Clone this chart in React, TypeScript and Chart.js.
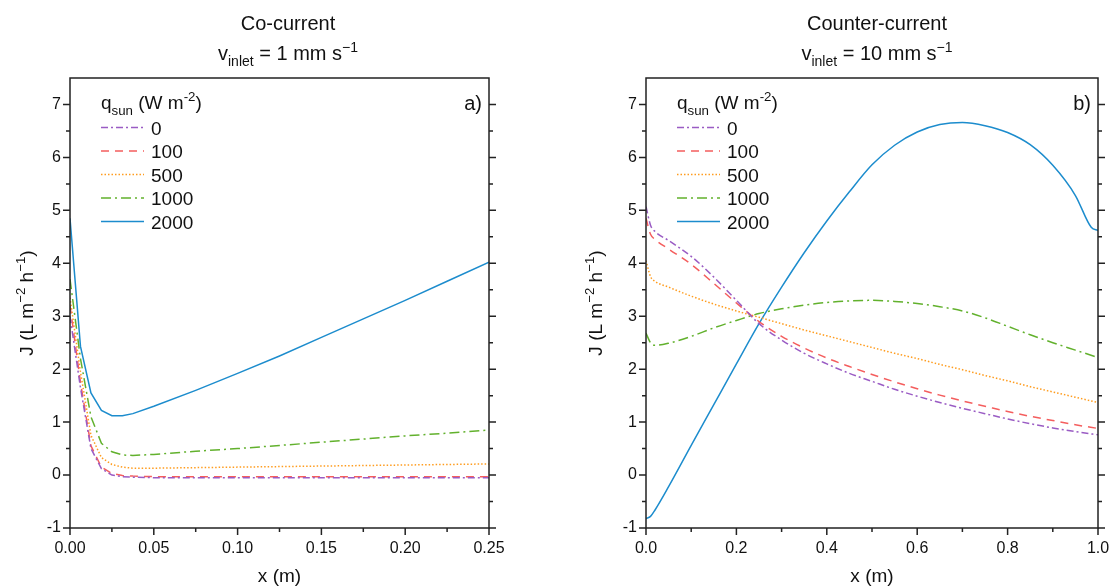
import React, { useEffect, useRef } from 'react';
import { Chart, registerables } from 'chart.js';
Chart.register(...registerables);

const FONT = '"Liberation Sans", Arial, sans-serif';

// ---------- data ----------
const seriesLabels = ['0', '100', '500', '1000', '2000'];
const seriesColors = ['#9a5cc4', '#f45e5e', '#ff9c1e', '#62b12d', '#1c8ccd'];
const seriesDashes: number[][] = [[7, 3, 2, 3], [8, 6], [1.5, 2], [10, 4, 2, 4], []];

// Co-current, v_inlet = 1 mm/s
const coX = [0, 0.00625, 0.0125, 0.01875, 0.025, 0.03125, 0.0375, 0.05, 0.075, 0.1, 0.125, 0.15, 0.175, 0.2, 0.225, 0.25];
const co0 = [3.0, 1.65, 0.5, 0.12, 0.0, -0.03, -0.04, -0.05, -0.05, -0.05, -0.05, -0.05, -0.05, -0.05, -0.05, -0.05];
const co100 = [3.2, 1.75, 0.55, 0.15, 0.03, -0.01, -0.02, -0.03, -0.03, -0.03, -0.03, -0.03, -0.03, -0.03, -0.03, -0.03];
const co500 = [3.35, 1.95, 0.75, 0.33, 0.2, 0.15, 0.13, 0.13, 0.14, 0.15, 0.16, 0.17, 0.18, 0.19, 0.2, 0.21];
const co1000 = [3.7, 2.2, 1.1, 0.6, 0.44, 0.38, 0.37, 0.39, 0.45, 0.5, 0.56, 0.62, 0.68, 0.74, 0.79, 0.85];
const co2000 = [4.85, 2.43, 1.55, 1.22, 1.12, 1.12, 1.16, 1.3, 1.6, 1.92, 2.25, 2.6, 2.95, 3.3, 3.66, 4.02];

// Counter-current, v_inlet = 10 mm/s
const ccX = [0, 0.01, 0.02, 0.05, 0.1, 0.15, 0.2, 0.25, 0.3, 0.35, 0.4, 0.45, 0.5, 0.55, 0.6, 0.65, 0.7, 0.75, 0.8, 0.85, 0.9, 0.95, 1.0];
const cc0 = [5.07, 4.72, 4.6, 4.43, 4.13, 3.74, 3.3, 2.86, 2.55, 2.3, 2.1, 1.92, 1.77, 1.62, 1.49, 1.37, 1.26, 1.16, 1.06, 0.97, 0.89, 0.82, 0.76];
const cc100 = [4.85, 4.55, 4.45, 4.27, 3.98, 3.62, 3.25, 2.9, 2.62, 2.4, 2.21, 2.05, 1.9, 1.76, 1.63, 1.51, 1.4, 1.3, 1.2, 1.11, 1.03, 0.95, 0.88];
const cc500 = [4.05, 3.75, 3.66, 3.55, 3.38, 3.23, 3.1, 2.98, 2.86, 2.74, 2.63, 2.52, 2.41, 2.3, 2.2, 2.09, 1.99, 1.88, 1.78, 1.67, 1.57, 1.47, 1.37];
const cc1000 = [2.68, 2.5, 2.45, 2.49, 2.62, 2.78, 2.92, 3.05, 3.14, 3.21, 3.26, 3.29, 3.3, 3.28, 3.24, 3.18, 3.1, 2.97, 2.81, 2.65, 2.5, 2.36, 2.22];
const ccX2000 = [0, 0.01, 0.02, 0.05, 0.1, 0.15, 0.2, 0.25, 0.3, 0.35, 0.4, 0.45, 0.5, 0.55, 0.6, 0.65, 0.7, 0.75, 0.8, 0.85, 0.9, 0.95, 0.985, 1.0];
const cc2000 = [-0.82, -0.78, -0.66, -0.22, 0.56, 1.33, 2.1, 2.86, 3.55, 4.2, 4.8, 5.35, 5.86, 6.23, 6.48, 6.62, 6.66, 6.6, 6.47, 6.24, 5.85, 5.28, 4.68, 4.62];

// ticks
const coXTicks = [0, 0.05, 0.1, 0.15, 0.2, 0.25];
const ccXTicks = [0, 0.2, 0.4, 0.6, 0.8, 1.0];
const yTicks = [-1, 0, 1, 2, 3, 4, 5, 6, 7];
const yMin = -1;
const yMax = 7.5;

type Seg = { t: string; s?: 'sub' | 'sup' };

function drawRich(ctx: CanvasRenderingContext2D, segs: Seg[], x: number, y: number, size: number, align: 'left' | 'center') {
  ctx.save();
  ctx.textBaseline = 'alphabetic';
  ctx.textAlign = 'left';
  const small = size * 0.7;
  const widths = segs.map((sg) => {
    ctx.font = `${sg.s ? small : size}px ${FONT}`;
    return ctx.measureText(sg.t).width;
  });
  const total = widths.reduce((a, b) => a + b, 0);
  let cx = align === 'center' ? x - total / 2 : x;
  segs.forEach((sg, i) => {
    ctx.font = `${sg.s ? small : size}px ${FONT}`;
    const dy = sg.s === 'sub' ? size * 0.3 : sg.s === 'sup' ? -size * 0.4 : 0;
    ctx.fillText(sg.t, cx, y + dy);
    cx += widths[i];
  });
  ctx.restore();
}

type Cfg = {
  title: string;
  subtitle: Seg[];
  titleX: number;
  letter: string;
  yTitleX: number;
  xTicks: number[];
};

function decorPlugin(cfg: Cfg) {
  return {
    id: 'decor',
    afterDraw(chart: any) {
      const ctx: CanvasRenderingContext2D = chart.ctx;
      const a = chart.chartArea;
      const xs = chart.scales.x;
      const ys = chart.scales.y;
      ctx.save();
      ctx.fillStyle = '#111';
      ctx.strokeStyle = '#222';
      ctx.lineWidth = 1.5;
      // box
      ctx.strokeRect(a.left, a.top, a.right - a.left, a.bottom - a.top);
      // y ticks (left outward, right outward)
      const yMinor: number[] = [];
      for (let i = 0; i < yTicks.length - 1; i++) yMinor.push((yTicks[i] + yTicks[i + 1]) / 2);
      ctx.beginPath();
      yTicks.forEach((v) => {
        const p = ys.getPixelForValue(v);
        ctx.moveTo(a.left - 7, p); ctx.lineTo(a.left, p);
        ctx.moveTo(a.right, p); ctx.lineTo(a.right + 7, p);
      });
      yMinor.forEach((v) => {
        const p = ys.getPixelForValue(v);
        ctx.moveTo(a.left - 4, p); ctx.lineTo(a.left, p);
        ctx.moveTo(a.right, p); ctx.lineTo(a.right + 4, p);
      });
      // x ticks
      const xt = cfg.xTicks;
      xt.forEach((v) => {
        const p = xs.getPixelForValue(v);
        ctx.moveTo(p, a.bottom); ctx.lineTo(p, a.bottom + 7);
      });
      for (let i = 0; i < xt.length - 1; i++) {
        const p = xs.getPixelForValue((xt[i] + xt[i + 1]) / 2);
        ctx.moveTo(p, a.bottom); ctx.lineTo(p, a.bottom + 4);
      }
      ctx.stroke();

      // titles
      ctx.font = `20px ${FONT}`;
      ctx.textAlign = 'center';
      ctx.textBaseline = 'alphabetic';
      ctx.fillText(cfg.title, cfg.titleX, 30);
      drawRich(ctx, cfg.subtitle, cfg.titleX, 60, 20, 'center');

      // panel letter
      ctx.font = `20px ${FONT}`;
      ctx.textAlign = 'right';
      ctx.fillText(cfg.letter, a.right - 7, 110);

      // axis titles
      ctx.textAlign = 'center';
      ctx.font = `19px ${FONT}`;
      ctx.fillText('x (m)', (a.left + a.right) / 2, 582);
      ctx.save();
      ctx.translate(cfg.yTitleX, (a.top + a.bottom) / 2);
      ctx.rotate(-Math.PI / 2);
      drawRich(ctx, [{ t: 'J (L m' }, { t: '−2', s: 'sup' }, { t: ' h' }, { t: '−1', s: 'sup' }, { t: ')' }], 0, 0, 19, 'center');
      ctx.restore();

      // legend
      const lx = a.left + 31;
      drawRich(ctx, [{ t: 'q' }, { t: 'sun', s: 'sub' }, { t: ' (W m' }, { t: '-2', s: 'sup' }, { t: ')' }], lx, 109, 19, 'left');
      chart.data.datasets.forEach((ds: any, i: number) => {
        const base = 134.5 + i * 23.5;
        const ly = base - 7;
        ctx.save();
        ctx.strokeStyle = ds.borderColor;
        ctx.lineWidth = ds.borderWidth;
        ctx.setLineDash(ds.borderDash || []);
        ctx.beginPath();
        ctx.moveTo(lx, ly);
        ctx.lineTo(lx + 43, ly);
        ctx.stroke();
        ctx.restore();
        ctx.font = `19px ${FONT}`;
        ctx.textAlign = 'left';
        ctx.fillStyle = '#111';
        ctx.fillText(ds.label, lx + 50, base);
      });
      ctx.restore();
    },
  };
}

function makeConfig(xs: number[][], ys: number[][], xMax: number, xTicks: number[], xDigits: number, yWidth: number, padRight: number, smooth: boolean, cfg: Cfg) {
  return {
    type: 'line' as const,
    data: {
      datasets: ys.map((vals, i) => ({
        label: seriesLabels[i],
        data: vals.map((v, j) => ({ x: xs[i][j], y: v })),
        borderColor: seriesColors[i],
        borderWidth: 1.5,
        borderDash: seriesDashes[i],
        pointRadius: 0,
        fill: false,
        tension: 0,
        cubicInterpolationMode: smooth ? ('monotone' as const) : ('default' as const),
      })),
    },
    options: {
      animation: false as const,
      responsive: false,
      devicePixelRatio: 1,
      layout: { padding: { left: 0, right: padRight, top: 78, bottom: 0 } },
      plugins: { legend: { display: false }, title: { display: false }, tooltip: { enabled: false } },
      scales: {
        x: {
          type: 'linear' as const,
          min: 0,
          max: xMax,
          grid: { display: false, drawTicks: false },
          border: { display: false },
          afterBuildTicks: (s: any) => { s.ticks = xTicks.map((v) => ({ value: v })); },
          afterFit: (s: any) => { s.height = 59; s.paddingLeft = 0; s.paddingRight = 0; },
          ticks: {
            autoSkip: false,
            maxRotation: 0,
            padding: 11,
            color: '#111',
            font: { family: FONT, size: 16 },
            callback: (v: any) => Number(v).toFixed(xDigits),
          },
        },
        y: {
          type: 'linear' as const,
          min: yMin,
          max: yMax,
          grid: { display: false, drawTicks: false },
          border: { display: false },
          afterBuildTicks: (s: any) => { s.ticks = yTicks.map((v) => ({ value: v })); },
          afterFit: (s: any) => { s.width = yWidth; s.paddingTop = 0; s.paddingBottom = 0; },
          ticks: {
            autoSkip: false,
            padding: 9,
            color: '#111',
            font: { family: FONT, size: 16 },
            callback: (v: any) => String(v),
          },
        },
      },
    },
    plugins: [decorPlugin(cfg)],
  };
}

export default function App() {
  const leftRef = useRef<HTMLCanvasElement>(null);
  const rightRef = useRef<HTMLCanvasElement>(null);

  useEffect(() => {
    const c1 = new Chart(
      leftRef.current!,
      makeConfig(
        [coX, coX, coX, coX, coX],
        [co0, co100, co500, co1000, co2000],
        0.25, coXTicks, 2, 70, 71, false,
        {
          title: 'Co-current',
          subtitle: [{ t: 'v' }, { t: 'inlet', s: 'sub' }, { t: ' = 1 mm s' }, { t: '−1', s: 'sup' }],
          titleX: 288,
          letter: 'a)',
          yTitleX: 33,
          xTicks: coXTicks,
        }
      ) as any
    );
    const c2 = new Chart(
      rightRef.current!,
      makeConfig(
        [ccX, ccX, ccX, ccX, ccX2000],
        [cc0, cc100, cc500, cc1000, cc2000],
        1.0, ccXTicks, 1, 86, 13, true,
        {
          title: 'Counter-current',
          subtitle: [{ t: 'v' }, { t: 'inlet', s: 'sub' }, { t: ' = 10 mm s' }, { t: '−1', s: 'sup' }],
          titleX: 317,
          letter: 'b)',
          yTitleX: 42,
          xTicks: ccXTicks,
        }
      ) as any
    );
    return () => {
      c1.destroy();
      c2.destroy();
    };
  }, []);

  return (
    <div style={{ position: 'absolute', left: 0, top: 0, width: 1111, height: 587, background: '#fff' }}>
      <canvas ref={leftRef} width={560} height={587} style={{ position: 'absolute', left: 0, top: 0, width: 560, height: 587 }} />
      <canvas ref={rightRef} width={551} height={587} style={{ position: 'absolute', left: 560, top: 0, width: 551, height: 587 }} />
    </div>
  );
}
